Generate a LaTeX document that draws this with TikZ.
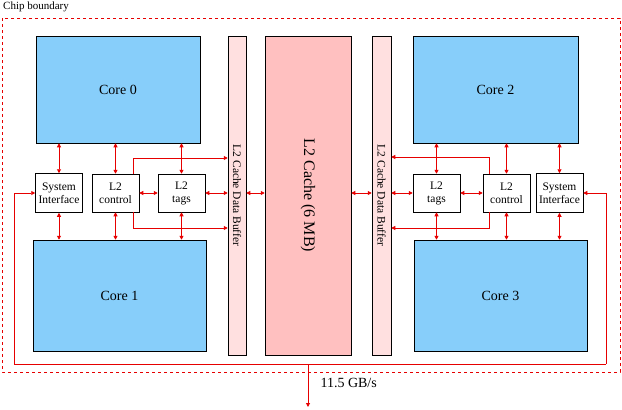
\documentclass[tikz,border=0pt]{standalone}
\usepackage{fontspec}
\setmainfont{Liberation Serif}
\usetikzlibrary{arrows.meta}
\begin{document}
\begin{tikzpicture}[x=1pt,y=-1pt,
 core/.style={draw,fill={rgb,255:red,135;green,206;blue,250},line width=0.5pt,font=\fontsize{14}{16}\selectfont},
 buf/.style={draw,fill={rgb,255:red,255;green,224;blue,224},line width=0.5pt},
 cache/.style={draw,fill={rgb,255:red,255;green,192;blue,192},line width=0.5pt},
 sm/.style={draw,fill=white,line width=0.5pt,font=\fontsize{11.5}{13}\selectfont,align=center,inner sep=0pt},
 wire/.style={draw={rgb,255:red,230;green,0;blue,0},line width=0.9pt},
 ar/.style={wire,-{Triangle[length=4pt,width=4pt]}},
 bar/.style={wire,{Triangle[length=4pt,width=4pt]}-{Triangle[length=4pt,width=4pt]}}]
\useasboundingbox (0,0) rectangle (622,410);
\draw[dashed,draw={rgb,255:red,230;green,0;blue,0},line width=0.6pt] (2,18) rectangle (620,372);
\node[anchor=north west,font=\fontsize{11}{12}\selectfont,inner sep=0pt] (cb) at (3,2) {Chip boundary};
% cores
\node[core,minimum width=164,minimum height=107] (c0) at (118,89.5) {Core 0};
\node[core,minimum width=173,minimum height=111] (c1) at (119.5,295.5) {Core 1};
\node[core,minimum width=165,minimum height=107] (c2) at (495.5,89.5) {Core 2};
\node[core,minimum width=173,minimum height=111] (c3) at (500.5,295.5) {Core 3};
% buffers and cache
\node[buf,minimum width=18,minimum height=319] (b0) at (237,195.5) {};
\node[rotate=-90,font=\fontsize{11.5}{13}\selectfont] at (237,195.5) {L2 Cache Data Buffer};
\node[buf,minimum width=19,minimum height=319] (b1) at (381.5,195.5) {};
\node[rotate=-90,font=\fontsize{11.5}{13}\selectfont] at (381.5,195.5) {L2 Cache Data Buffer};
\node[cache,minimum width=86,minimum height=319] (l2) at (308,195.5) {};
\node[rotate=-90,font=\fontsize{16}{18}\selectfont] at (308,195.5) {L2 Cache (6 MB)};
% small boxes
\node[sm,minimum width=47,minimum height=39] (si0) at (59,193) {System\\Interface};
\node[sm,minimum width=47,minimum height=38] (ct0) at (115.5,193) {L2\\control};
\node[sm,minimum width=47,minimum height=38] (tg0) at (181.5,193) {L2\\tags};
\node[sm,minimum width=47,minimum height=38] (tg1) at (436.5,193) {L2\\tags};
\node[sm,minimum width=47,minimum height=38] (ct1) at (506.5,193) {L2\\control};
\node[sm,minimum width=47,minimum height=39] (si1) at (559.5,193) {System\\Interface};
% vertical links
\foreach \b/\t/\u in {si0/c0/c1,ct0/c0/c1,tg0/c0/c1,tg1/c2/c3,ct1/c2/c3,si1/c2/c3}{
 \draw[bar] (\b.north) -- (\b.north |- \t.south);
 \draw[bar] (\b.south) -- (\b.south |- \u.north);
}
% horizontal links
\draw[bar] (ct0.east) -- (tg0.west);
\draw[bar] (tg0.east) -- (b0.west |- tg0.east);
\draw[bar] (b0.east |- tg0.east) -- (l2.west |- tg0.east);
\draw[bar] (l2.east |- tg1.west) -- (b1.west |- tg1.west);
\draw[bar] (b1.east |- tg1.west) -- (tg1.west);
\draw[bar] (tg1.east) -- (ct1.west);
% control to buffers
\coordinate (p1) at (133,174); \coordinate (p2) at (133,212);
\coordinate (p3) at (489,174); \coordinate (p4) at (489,212);
\draw[ar] (p1) |- (b0.west |- 0,158);
\draw[ar] (p2) |- (b0.west |- 0,228);
\draw[ar] (p3) |- (b1.east |- 0,157);
\draw[ar] (p4) |- (b1.east |- 0,228);
% external
\coordinate (e1) at (14,364); \coordinate (e2) at (606,364);
\coordinate (em) at (308,364); \coordinate (eo) at (308,407);
\draw[ar] (e1) |- (si0.west);
\draw[ar] (e2) |- (si1.east);
\draw[wire] (e1) -- (e2);
\draw[ar] (em) -- (eo);
\node[anchor=west,font=\fontsize{14}{16}\selectfont] (bw) at (317,383) {11.5 GB/s};
\end{tikzpicture}
\end{document}
